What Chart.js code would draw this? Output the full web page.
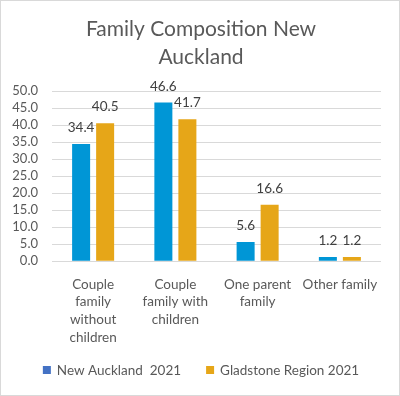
<!DOCTYPE html>
<html>
<head>
<meta charset="utf-8">
<script src="https://cdn.jsdelivr.net/npm/chart.js@4"></script>
<style>
  html, body { margin: 0; padding: 0; background: #fff; }
  #wrap { width: 400px; height: 396px; box-sizing: border-box; border: 1px solid #d9d9d9; }
</style>
</head>
<body>
<div id="wrap"><canvas id="chart" width="398" height="394"></canvas></div>
<script>
const titleLines = ['Family Composition New', 'Auckland'];
const categories = [
    ['Couple', 'family', 'without', 'children'],
    ['Couple', 'family with', 'children'],
    ['One parent', 'family'],
    ['Other family']
];
const newAuckland = [34.4, 46.6, 5.6, 1.2];
const gladstone = [40.5, 41.7, 16.6, 1.2];
const seriesNames = ['New Auckland  2021', 'Gladstone Region 2021'];
const seriesColors = ['#0096d6', '#e6a618'];
const legendColors = ['#4472c4', '#e6a618'];
const yTicks = [0, 5, 10, 15, 20, 25, 30, 35, 40, 45, 50];

const FONT = 'Lato, "Open Sans", sans-serif';
const GREY = '#595959';

// value labels above the bars
const barLabels = {
    id: 'barLabels',
    afterDatasetsDraw(chart) {
        const ctx = chart.ctx;
        ctx.save();
        ctx.font = '13.5px ' + FONT;
        ctx.fillStyle = '#404040';
        ctx.textAlign = 'center';
        ctx.textBaseline = 'alphabetic';
        chart.data.datasets.forEach((ds, i) => {
            chart.getDatasetMeta(i).data.forEach((bar, j) => {
                ctx.fillText(ds.data[j].toFixed(1), bar.x, bar.y - 12);
            });
        });
        ctx.restore();
    }
};

// title and legend drawn by hand: the title is centred on the whole frame,
// not on the padded layout box, and the legend spacing matches the original
const frameText = {
    id: 'frameText',
    afterDraw(chart) {
        const ctx = chart.ctx;
        ctx.save();
        ctx.fillStyle = GREY;
        ctx.textAlign = 'center';
        ctx.textBaseline = 'middle';
        ctx.font = '21px ' + FONT;
        titleLines.forEach((line, i) => {
            ctx.fillText(line, chart.width / 2 + 1, 28 + i * 28);
        });

        ctx.textAlign = 'left';
        ctx.font = '13.5px ' + FONT;
        const box = 8, gap = 6, between = 25;
        const widths = seriesNames.map(n => ctx.measureText(n).width);
        let total = widths.reduce((a, w) => a + box + gap + w, 0) + between * (seriesNames.length - 1);
        let x = (chart.width - total) / 2 + 1;
        const y = chart.height - 25;
        seriesNames.forEach((name, i) => {
            ctx.fillStyle = legendColors[i];
            ctx.fillRect(x, y - box / 2, box, box);
            ctx.fillStyle = GREY;
            ctx.fillText(name, x + box + gap, y + 1);
            x += box + gap + widths[i] + between;
        });
        ctx.restore();
    }
};

new Chart(document.getElementById('chart'), {
    type: 'bar',
    data: {
        labels: categories,
        datasets: seriesNames.map((name, i) => ({
            label: name,
            data: [newAuckland, gladstone][i],
            backgroundColor: seriesColors[i]
        }))
    },
    options: {
        responsive: false,
        animation: false,
        categoryPercentage: 0.584,
        barPercentage: 0.75,
        layout: { padding: { left: 0, right: 18, top: 90, bottom: 42 } },
        plugins: {
            title: { display: false },
            legend: { display: false },
            tooltip: { enabled: false }
        },
        scales: {
            x: {
                grid: { display: false },
                border: { display: false },
                ticks: {
                    color: GREY,
                    font: { family: FONT, size: 13.5, lineHeight: 1.33 },
                    maxRotation: 0,
                    autoSkip: false,
                    padding: 6
                }
            },
            y: {
                min: 0,
                max: 50,
                afterBuildTicks(axis) {
                    axis.ticks = yTicks.map(v => ({ value: v }));
                },
                afterFit(scale) {
                    scale.width = 51;
                },
                grid: { color: '#d9d9d9', drawTicks: false },
                border: { display: false },
                ticks: {
                    color: GREY,
                    font: { family: FONT, size: 13 },
                    padding: 14,
                    autoSkip: false,
                    callback: v => v.toFixed(1)
                }
            }
        }
    },
    plugins: [barLabels, frameText]
});
</script>
</body>
</html>
